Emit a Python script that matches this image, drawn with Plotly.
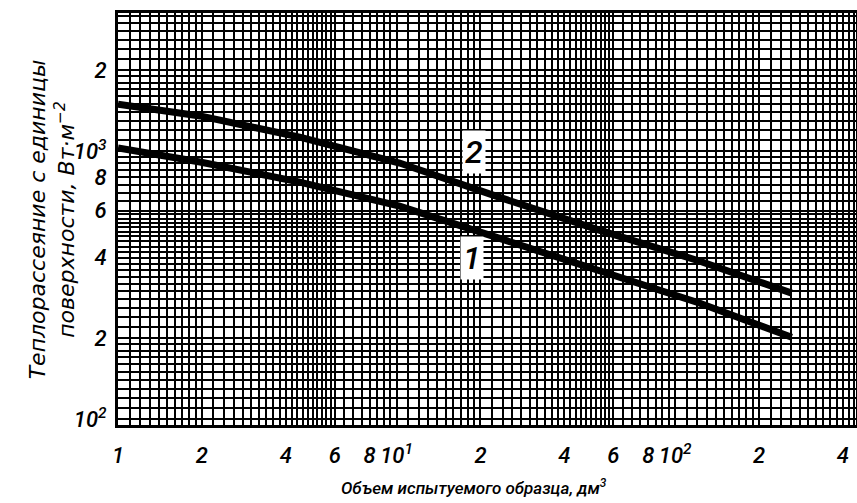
import math
import plotly.graph_objects as go

# ---- data ----
curve1_x = [1, 1.97, 4.49, 10.25, 23.3, 53.4, 122, 262]
curve1_y = [1026, 910, 766, 623, 473, 360, 271, 202]
curve2_x = [1, 1.97, 4.49, 10.25, 23.3, 53.4, 122, 262]
curve2_y = [1496, 1352, 1127, 902, 673, 507, 389, 295]

x_tickvals = [1, 2, 4, 6, 8, 10, 20, 40, 60, 80, 100, 200, 400]
x_ticktext = ["1", "2", "4", "6", "8", "10<sup>1</sup>", "2", "4", "6", "8", "10<sup>2</sup>", "2", "4"]
y_tickvals = [100, 200, 400, 600, 800, 1000, 2000]
y_ticktext = ["10<sup>2</sup>", "2", "4", "6", "8", "10<sup>3</sup>", "2"]

curve_labels = ["1", "2"]
label_x = [18.7, 18.9]
label_y = [399, 990]

x_title = "Объем испытуемого образца, дм<sup>3</sup>"
y_title = "Теплорассеяние с единицы<br>поверхности, Вт·м<sup>−2</sup>"

# ---- grid pattern of the log paper ----
mult = [1.1, 1.2, 1.3, 1.4, 1.5, 1.6, 1.7, 1.8, 1.9,
        2.2, 2.4, 2.6, 2.8, 3, 3.2, 3.4, 3.6, 3.8,
        4.2, 4.4, 4.6, 4.8, 5, 5.2, 5.4, 5.6, 5.8,
        6.5, 7, 7.5, 8.5, 9, 9.5]
def grid_vals(decades):
    out = []
    for d in decades:
        for m in mult:
            out.append(m * 10 ** d)
    return out
x_minor = grid_vals([0, 1, 2])
y_minor = grid_vals([1, 2, 3])

FONT = "Roboto, DejaVu Sans"
tickfont = dict(family=FONT, size=22, color="black", style="italic", weight=500)

fig = go.Figure()
fig.add_trace(go.Scatter(x=curve1_x, y=curve1_y, mode="lines",
                         line=dict(color="black", width=7), showlegend=False))
fig.add_trace(go.Scatter(x=curve2_x, y=curve2_y, mode="lines",
                         line=dict(color="black", width=7), showlegend=False))

for t, xx, yy in zip(curve_labels, label_x, label_y):
    fig.add_annotation(x=math.log10(xx), y=math.log10(yy), text=t, showarrow=False,
                       font=dict(family=FONT, size=32, color="black", style="italic", weight=500),
                       bgcolor="white", borderpad=2)

# axis titles
fig.add_annotation(xref="paper", yref="paper", x=0.483, y=-0.150, text=x_title,
                   showarrow=False, xanchor="center", yanchor="middle",
                   font=dict(family=FONT, size=17, color="black", style="italic", weight=500))
fig.add_annotation(xref="paper", yref="paper", x=-0.089, y=0.50, text=y_title,
                   showarrow=False, xanchor="center", yanchor="middle", textangle=-90,
                   font=dict(family="DejaVu Sans", size=22, color="black", style="italic"))

axis_common = dict(showline=True, linecolor="black", linewidth=3, mirror=True,
                   showgrid=True, gridcolor="black", gridwidth=2, ticks="",
                   zeroline=False, automargin=False)

fig.update_xaxes(type="log", range=[0, 2.649], tickmode="array",
                 tickvals=x_tickvals, ticktext=x_ticktext, tickfont=tickfont,
                 ticklabelstandoff=9,
                 minor=dict(tickmode="array", tickvals=x_minor, showgrid=True,
                            gridcolor="black", gridwidth=2, ticks=""),
                 **axis_common)
fig.update_yaxes(type="log", range=[1.978, 3.515], tickmode="array",
                 tickvals=y_tickvals, ticktext=y_ticktext, tickfont=tickfont,
                 ticklabelstandoff=4,
                 minor=dict(tickmode="array", tickvals=y_minor, showgrid=True,
                            gridcolor="black", gridwidth=2, ticks=""),
                 **axis_common)

fig.update_layout(width=857, height=503, margin=dict(l=118, r=1, t=13, b=78),
                  plot_bgcolor="white", paper_bgcolor="white")
fig.write_html("out.html", config={"displayModeBar": False},
               post_script="document.body.style.margin='0';document.body.style.overflow='hidden';")
